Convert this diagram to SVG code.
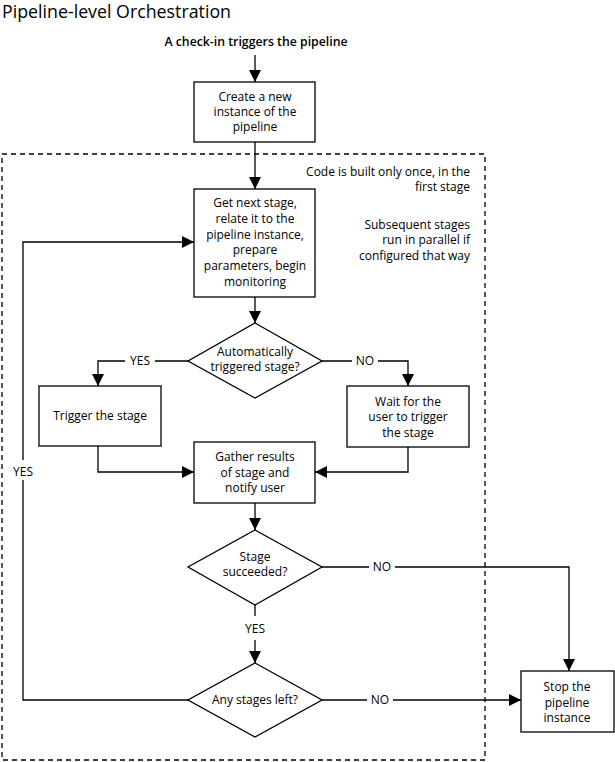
<svg xmlns="http://www.w3.org/2000/svg" width="615" height="762" viewBox="0 0 615 762">
<style>
text{font-family:"Open Sans","Noto Sans","DejaVu Sans",sans-serif;font-size:12px;fill:#000;text-anchor:middle}
.title{font-size:17.8px;text-anchor:start}
.sub{font-weight:600;font-size:12.3px}
.note{text-anchor:end}
.node{fill:#fff;stroke:#000;stroke-width:1.3}
.c{fill:none;stroke:#000;stroke-width:1.3}
.dash{fill:none;stroke:#000;stroke-width:1.3;stroke-dasharray:5,4}
.lbg{fill:#fff;stroke:none}
</style>
<defs>
<marker id="ah" markerUnits="userSpaceOnUse" markerWidth="12" markerHeight="12" viewBox="0 0 12 12" refX="12" refY="6" orient="auto">
<path d="M0,0 L12,6 L0,12 Z" fill="#000"/>
</marker>
</defs>
<rect width="615" height="762" fill="#fff"/>
<text class="title" x="2" y="18">Pipeline-level Orchestration</text>
<text class="sub" x="256" y="46">A check-in triggers the pipeline</text>
<rect class="dash" x="2" y="154" width="483" height="606"/>
<g id="notes">
<text class="note" x="470" y="176">Code is built only once, in the</text>
<text class="note" x="470" y="191">first stage</text>
<text class="note" x="470" y="229">Subsequent stages</text>
<text class="note" x="470" y="244">run in parallel if</text>
<text class="note" x="470" y="260">configured that way</text>
</g>
<g id="connectors">
<path class="c" d="M255,55 V82" marker-end="url(#ah)"/>
<path class="c" d="M255,142 V189" marker-end="url(#ah)"/>
<path class="c" d="M255,297 V323" marker-end="url(#ah)"/>
<path class="c" d="M188,361 H98 V386" marker-end="url(#ah)"/>
<path class="c" d="M322,361 H408 V386" marker-end="url(#ah)"/>
<path class="c" d="M98,446 V472 H194" marker-end="url(#ah)"/>
<path class="c" d="M408,447 V472 H315" marker-end="url(#ah)"/>
<path class="c" d="M255,503 V530" marker-end="url(#ah)"/>
<path class="c" d="M322,567 H569 V671" marker-end="url(#ah)"/>
<path class="c" d="M255,605 V663" marker-end="url(#ah)"/>
<path class="c" d="M322,700 H521" marker-end="url(#ah)"/>
<path class="c" d="M188,700 H23 V242 H194" marker-end="url(#ah)"/>
<rect class="lbg" x="125" y="354" width="30" height="14"/>
<text x="140" y="365">YES</text>
<rect class="lbg" x="352" y="354" width="26" height="14"/>
<text x="365" y="365">NO</text>
<rect class="lbg" x="369" y="560" width="26" height="14"/>
<text x="382" y="571">NO</text>
<rect class="lbg" x="240" y="616" width="30" height="24"/>
<text x="255" y="633">YES</text>
<rect class="lbg" x="367" y="693" width="26" height="14"/>
<text x="380" y="704">NO</text>
<rect class="lbg" x="9" y="460" width="28" height="20"/>
<text x="23" y="476">YES</text>
</g>
<g id="create">
<rect class="node" x="194" y="82" width="121" height="60"/>
<text x="255" y="101">Create a new</text>
<text x="255" y="116">instance of the</text>
<text x="255" y="131">pipeline</text>
</g>
<g id="getnext">
<rect class="node" x="194" y="189" width="121" height="108"/>
<text x="255" y="207">Get next stage,</text>
<text x="255" y="223">relate it to the</text>
<text x="255" y="239">pipeline instance,</text>
<text x="255" y="254">prepare</text>
<text x="255" y="270">parameters, begin</text>
<text x="255" y="286">monitoring</text>
</g>
<g id="auto">
<polygon class="node" points="255,323 322,361 255,398 188,361"/>
<text x="255" y="356">Automatically</text>
<text x="255" y="371">triggered stage?</text>
</g>
<g id="trigger">
<rect class="node" x="39" y="386" width="122" height="60"/>
<text x="100" y="420">Trigger the stage</text>
</g>
<g id="wait">
<rect class="node" x="347" y="386" width="122" height="61"/>
<text x="408" y="406">Wait for the</text>
<text x="408" y="421">user to trigger</text>
<text x="408" y="437">the stage</text>
</g>
<g id="gather">
<rect class="node" x="194" y="442" width="121" height="61"/>
<text x="255" y="461">Gather results</text>
<text x="255" y="477">of stage and</text>
<text x="255" y="492">notify user</text>
</g>
<g id="succeeded">
<polygon class="node" points="255,530 322,567 255,605 188,567"/>
<text x="255" y="561">Stage</text>
<text x="255" y="576">succeeded?</text>
</g>
<g id="left">
<polygon class="node" points="255,663 322,700 255,737 188,700"/>
<text x="255" y="704">Any stages left?</text>
</g>
<g id="stop">
<rect class="node" x="521" y="671" width="93" height="61"/>
<text x="567" y="691">Stop the</text>
<text x="567" y="707">pipeline</text>
<text x="567" y="722">instance</text>
</g>
</svg>
